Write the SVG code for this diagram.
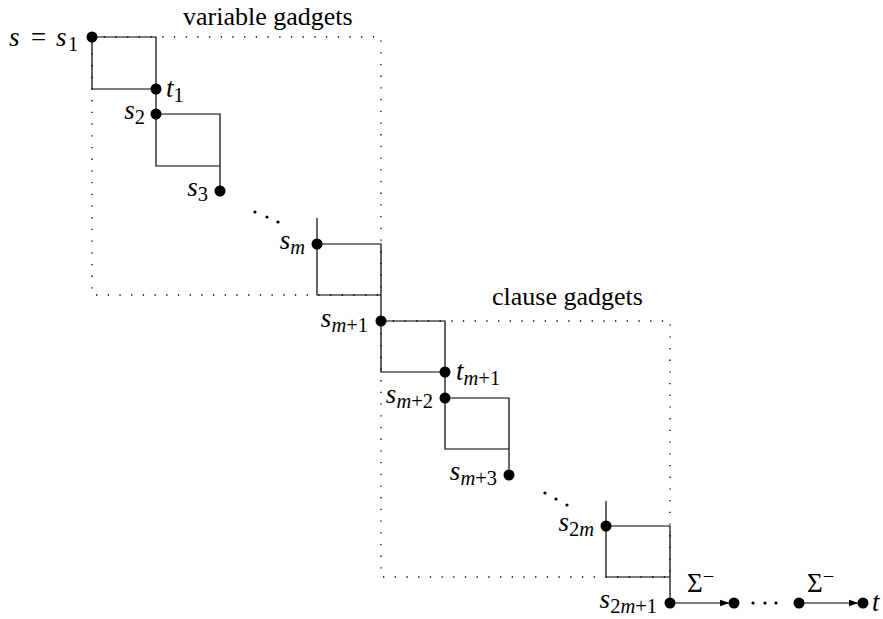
<svg xmlns="http://www.w3.org/2000/svg" width="883" height="619" viewBox="0 0 883 619" font-family="'Liberation Serif','Times New Roman',serif">
<style>
  .ln{fill:none;stroke:#000;stroke-width:1.2}
  .dot{fill:none;stroke:#000;stroke-width:1.3;stroke-dasharray:1.3 10.4}
  .n{fill:#000}
  text{font-family:"Liberation Serif","Times New Roman",serif;font-size:27px;fill:#000}
  .ttl{font-size:26px}
  .i{font-style:italic}
  .sub{font-size:20.5px}
  .ed{fill:#000}
</style>
<defs>
  <marker id="ah" markerWidth="10" markerHeight="8" refX="9" refY="4" orient="auto" markerUnits="userSpaceOnUse">
    <path d="M0,0.5 L10,4 L0,7.5 Z" fill="#000"/>
  </marker>
</defs>
<g id="boxes">
  <rect id="var-box" class="dot" x="92" y="37" width="289" height="258"/>
  <rect id="clause-box" class="dot" x="381" y="321" width="289" height="256"/>
  <text class="ttl" x="183" y="25">variable gadgets</text>
  <text class="ttl" x="492" y="305">clause gadgets</text>
</g>
<g id="connectors">
  <path class="ln" d="M92,37 H156 V89"/>
  <path class="ln" d="M92,37 V89 H156"/>
  <path class="ln" d="M156,89 V114"/>
  <path class="ln" d="M156,114 H220 V166"/>
  <path class="ln" d="M156,114 V166 H220"/>
  <path class="ln" d="M220,166 V191"/>
  <path class="ln" d="M317,218 V244"/>
  <path class="ln" d="M317,244 H381 V295"/>
  <path class="ln" d="M317,244 V295 H381"/>
  <path class="ln" d="M381,295 V321"/>
  <path class="ln" d="M381,321 H445 V372"/>
  <path class="ln" d="M381,321 V372 H445"/>
  <path class="ln" d="M445,372 V398"/>
  <path class="ln" d="M445,398 H509 V449"/>
  <path class="ln" d="M445,398 V449 H509"/>
  <path class="ln" d="M509,449 V475"/>
  <path class="ln" d="M606,501 V526"/>
  <path class="ln" d="M606,526 H670 V577"/>
  <path class="ln" d="M606,526 V577 H670"/>
  <path class="ln" d="M670,577 V603"/>
  <path class="ln" d="M670,603 H728.5" marker-end="url(#ah)"/>
  <path class="ln" d="M799,603 H857.5" marker-end="url(#ah)"/>
  <text x="687" y="592">Σ<tspan class="sub" dy="-9">−</tspan></text>
  <text x="807" y="592">Σ<tspan class="sub" dy="-9">−</tspan></text>
</g>
<g id="ellipses">
  <circle class="ed" cx="255" cy="212" r="1.6"/>
  <circle class="ed" cx="267" cy="217" r="1.6"/>
  <circle class="ed" cx="278" cy="222" r="1.6"/>
  <circle class="ed" cx="545" cy="493" r="1.6"/>
  <circle class="ed" cx="556" cy="499" r="1.6"/>
  <circle class="ed" cx="567" cy="505" r="1.6"/>
  <circle class="ed" cx="753" cy="603" r="1.6"/>
  <circle class="ed" cx="765" cy="603" r="1.6"/>
  <circle class="ed" cx="776" cy="603" r="1.6"/>
</g>
<g id="node-s1">
  <circle class="n" cx="92" cy="37" r="5.5"/>
  <text x="9" y="46" class="i">s</text>
  <text x="31" y="46">=</text>
  <text x="56" y="46" class="i">s</text>
  <text x="68" y="51" class="sub">1</text>
</g>
<g id="node-t1">
  <circle class="n" cx="156" cy="89" r="5.5"/>
  <text x="166" y="97"><tspan class="i">t</tspan><tspan class="sub" dy="5">1</tspan></text>
</g>
<g id="node-s2">
  <circle class="n" cx="156" cy="114" r="5.5"/>
  <text x="145" y="119" text-anchor="end"><tspan class="i">s</tspan><tspan class="sub" dy="5">2</tspan></text>
</g>
<g id="node-s3">
  <circle class="n" cx="220" cy="191" r="5.5"/>
  <text x="208" y="196" text-anchor="end"><tspan class="i">s</tspan><tspan class="sub" dy="5">3</tspan></text>
</g>
<g id="node-sm">
  <circle class="n" cx="317" cy="244" r="5.5"/>
  <text x="305" y="249" text-anchor="end"><tspan class="i">s</tspan><tspan class="sub i" dy="5">m</tspan></text>
</g>
<g id="node-sm1">
  <circle class="n" cx="381" cy="321" r="5.5"/>
  <text x="368" y="327" text-anchor="end"><tspan class="i">s</tspan><tspan class="sub i" dy="5">m</tspan><tspan class="sub">+1</tspan></text>
</g>
<g id="node-tm1">
  <circle class="n" cx="445" cy="372" r="5.5"/>
  <text x="456" y="380"><tspan class="i">t</tspan><tspan class="sub i" dy="5">m</tspan><tspan class="sub">+1</tspan></text>
</g>
<g id="node-sm2">
  <circle class="n" cx="445" cy="398" r="5.5"/>
  <text x="433" y="403" text-anchor="end"><tspan class="i">s</tspan><tspan class="sub i" dy="5">m</tspan><tspan class="sub">+2</tspan></text>
</g>
<g id="node-sm3">
  <circle class="n" cx="509" cy="475" r="5.5"/>
  <text x="497" y="480" text-anchor="end"><tspan class="i">s</tspan><tspan class="sub i" dy="5">m</tspan><tspan class="sub">+3</tspan></text>
</g>
<g id="node-s2m">
  <circle class="n" cx="606" cy="526" r="5.5"/>
  <text x="594" y="531" text-anchor="end"><tspan class="i">s</tspan><tspan class="sub" dy="5">2</tspan><tspan class="sub i">m</tspan></text>
</g>
<g id="node-s2m1">
  <circle class="n" cx="670" cy="603" r="5.5"/>
  <text x="657" y="608" text-anchor="end"><tspan class="i">s</tspan><tspan class="sub" dy="5">2</tspan><tspan class="sub i">m</tspan><tspan class="sub">+1</tspan></text>
</g>
<g id="node-a">
  <circle class="n" cx="734" cy="603" r="5.5"/>
</g>
<g id="node-b">
  <circle class="n" cx="799" cy="603" r="5.5"/>
</g>
<g id="node-t">
  <circle class="n" cx="863" cy="603" r="5.5"/>
  <text x="872" y="611" class="i">t</text>
</g>
</svg>
